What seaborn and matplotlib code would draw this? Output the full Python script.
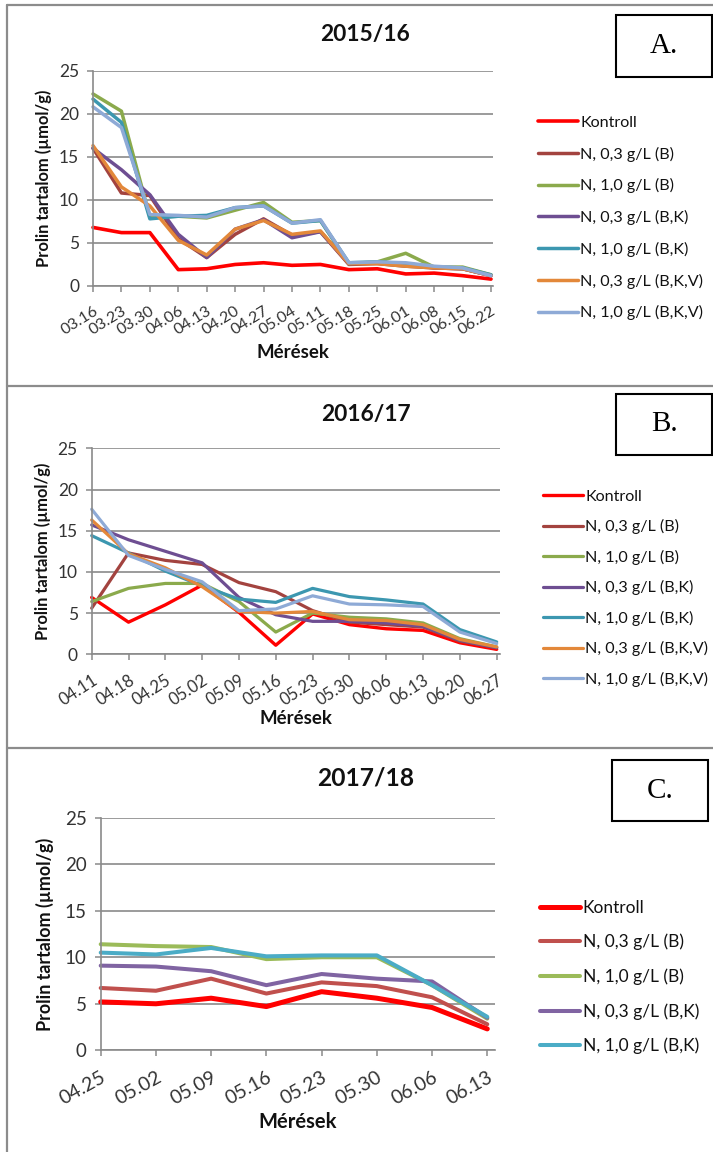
import numpy as np
import matplotlib
matplotlib.use("Agg")
import matplotlib.pyplot as plt
from matplotlib.patches import Rectangle
from matplotlib.lines import Line2D
import seaborn as sns

# ---------------- data ----------------
series_labels = ["Kontroll", "N, 0,3 g/L (B)", "N, 1,0 g/L (B)",
                 "N, 0,3 g/L (B,K)", "N, 1,0 g/L (B,K)",
                 "N, 0,3 g/L (B,K,V)", "N, 1,0 g/L (B,K,V)"]
y_ticks = [0, 5, 10, 15, 20, 25]

# 2015/16
dates_1516 = ["03.16", "03.23", "03.30", "04.06", "04.13", "04.20", "04.27", "05.04",
              "05.11", "05.18", "05.25", "06.01", "06.08", "06.15", "06.22"]
kontroll_1516 = [6.8, 6.2, 6.2, 1.9, 2.0, 2.5, 2.7, 2.4, 2.5, 1.9, 2.0, 1.4, 1.5, 1.2, 0.8]
n03_b_1516 = [16.0, 10.8, 10.5, 5.5, 3.3, 6.0, 7.8, 5.9, 6.3, 2.5, 2.6, 2.3, 2.1, 2.0, 1.2]
n10_b_1516 = [22.3, 20.3, 8.0, 8.1, 7.9, 8.8, 9.7, 7.4, 7.6, 2.6, 2.8, 3.8, 2.2, 2.2, 1.3]
n03_bk_1516 = [16.0, 13.5, 10.6, 6.0, 3.3, 6.6, 7.7, 5.6, 6.3, 2.6, 2.7, 2.5, 2.1, 2.0, 1.2]
n10_bk_1516 = [21.7, 19.0, 7.8, 8.1, 8.2, 9.1, 9.3, 7.3, 7.6, 2.7, 2.8, 2.6, 2.2, 2.1, 1.3]
n03_bkv_1516 = [16.3, 11.5, 9.3, 5.3, 3.6, 6.6, 7.6, 6.0, 6.4, 2.6, 2.6, 2.3, 2.1, 2.0, 1.2]
n10_bkv_1516 = [20.8, 18.4, 8.3, 8.2, 8.0, 9.1, 9.3, 7.3, 7.7, 2.7, 2.8, 2.7, 2.3, 2.1, 1.2]

# 2016/17
dates_1617 = ["04.11", "04.18", "04.25", "05.02", "05.09", "05.16", "05.23", "05.30",
              "06.06", "06.13", "06.20", "06.27"]
kontroll_1617 = [6.9, 3.9, 6.0, 8.4, 5.1, 1.1, 4.9, 3.6, 3.1, 2.9, 1.4, 0.6]
n03_b_1617 = [5.6, 12.3, 11.4, 10.9, 8.7, 7.6, 5.3, 3.9, 3.6, 3.3, 1.6, 0.8]
n10_b_1617 = [6.4, 8.0, 8.6, 8.6, 6.4, 2.7, 5.0, 4.5, 4.3, 3.8, 1.9, 0.9]
n03_bk_1617 = [15.7, 13.9, 12.5, 11.1, 6.9, 4.8, 4.0, 4.0, 3.8, 3.4, 1.7, 0.8]
n10_bk_1617 = [14.4, 12.3, 10.1, 8.3, 6.7, 6.3, 8.0, 7.0, 6.6, 6.1, 3.0, 1.5]
n03_bkv_1617 = [16.3, 12.2, 10.5, 8.2, 5.2, 5.0, 5.2, 4.2, 4.1, 3.6, 1.8, 0.9]
n10_bkv_1617 = [17.6, 12.0, 10.3, 8.8, 5.3, 5.5, 7.1, 6.1, 6.0, 5.8, 2.7, 1.3]

# 2017/18
dates_1718 = ["04.25", "05.02", "05.09", "05.16", "05.23", "05.30", "06.06", "06.13"]
kontroll_1718 = [5.2, 5.0, 5.6, 4.7, 6.3, 5.6, 4.6, 2.3]
n03_b_1718 = [6.7, 6.4, 7.7, 6.1, 7.3, 6.9, 5.7, 2.8]
n10_b_1718 = [11.4, 11.2, 11.1, 9.8, 10.0, 10.0, 7.0, 3.4]
n03_bk_1718 = [9.1, 9.0, 8.5, 7.0, 8.2, 7.7, 7.4, 3.5]
n10_bk_1718 = [10.5, 10.3, 11.0, 10.1, 10.2, 10.2, 7.0, 3.6]

colors_dark = ["#FF0000", "#A3433F", "#8BAA4C", "#6E4E92", "#3C97B0", "#E3883A", "#8EAAD6"]
colors_c = ["#FF0000", "#C0504D", "#9BBB59", "#8064A2", "#4BACC6"]

# ---------------- style ----------------
sns.set_style("white")
plt.rcParams["font.family"] = ["Lato", "DejaVu Sans"]

W, H = 713, 1152
fig = plt.figure(figsize=(W / 100, H / 100), dpi=100)


def fx(x):
    return x / W


def fy(y):
    return 1 - y / H


FRAME = "#8c8c8c"
GRID = "#8a8a8a"
TXT = "#333333"

# panel frames
for yy in (5, 385.5, 748):
    fig.add_artist(Line2D([fx(7), fx(713)], [fy(yy), fy(yy)], transform=fig.transFigure,
                          color=FRAME, lw=1.6))
fig.add_artist(Line2D([fx(7), fx(7)], [fy(5), fy(1152)], transform=fig.transFigure,
                      color=FRAME, lw=1.6))

panels = [
    dict(title="2015/16", letter="A.", dates=dates_1516,
         series=[kontroll_1516, n03_b_1516, n10_b_1516, n03_bk_1516, n10_bk_1516,
                 n03_bkv_1516, n10_bkv_1516],
         colors=colors_dark, lws=[2.6] + [2.5] * 6,
         rect=(93, 70.7, 493, 286), xext=0.07, title_xy=(365, 34),
         letter_box=(616, 15, 712, 77), ylab_x=44, xlab_y=352,
         leg=(538, 123), leg_pitch=31.7, scale=1.0, xtick_fs=11.5, rot=32),
    dict(title="2016/17", letter="B.", dates=dates_1617,
         series=[kontroll_1617, n03_b_1617, n10_b_1617, n03_bk_1617, n10_bk_1617,
                 n03_bkv_1617, n10_bkv_1617],
         colors=colors_dark, lws=[2.4] + [2.3] * 6,
         rect=(91.7, 448.3, 500, 654.3), xext=0.09, title_xy=(366, 414),
         letter_box=(616, 394, 712, 455), ylab_x=43, xlab_y=718,
         leg=(543, 497), leg_pitch=30.4, scale=1.0, xtick_fs=12, rot=33),
    dict(title="2017/18", letter="C.", dates=dates_1718,
         series=[kontroll_1718, n03_b_1718, n10_b_1718, n03_bk_1718, n10_bk_1718],
         colors=colors_c, lws=[3.6] + [2.9] * 4,
         rect=(100.7, 817.7, 495, 1050.3), xext=0.14, title_xy=(366, 778),
         letter_box=(612, 760, 708, 821), ylab_x=45, xlab_y=1122,
         leg=(540, 908), leg_pitch=34.2, scale=1.08, xtick_fs=14, rot=29),
]

for p in panels:
    l, t, r, b = p["rect"]
    s = p["scale"]
    ax = fig.add_axes([fx(l), fy(b), (r - l) / W, (b - t) / H])
    xs = np.arange(len(p["dates"]))
    for lab, vals, col, lw in zip(series_labels, p["series"], p["colors"], p["lws"]):
        sns.lineplot(x=xs, y=vals, color=col, linewidth=lw, label=lab, ax=ax,
                     clip_on=False, solid_joinstyle="round", solid_capstyle="round")

    ax.set_xlim(0, len(xs) - 1 + p["xext"])
    ax.set_ylim(0, 25)
    ax.set_yticks(y_ticks)
    ax.set_xticks(xs)
    ax.set_xticklabels(p["dates"], rotation=p["rot"], ha="right", va="top",
                       rotation_mode="anchor", fontsize=p["xtick_fs"])
    ax.tick_params(axis="y", labelsize=12.5 * s, pad=6)
    ax.tick_params(axis="x", pad=9)
    ax.tick_params(axis="both", direction="out", length=4, width=1.1, color=GRID,
                   labelcolor=TXT, left=True, bottom=True)
    ax.grid(axis="y", color=GRID, lw=1.2)
    ax.grid(axis="x", visible=False)
    ax.set_axisbelow(True)
    for side in ("top", "right"):
        ax.spines[side].set_visible(False)
    for side in ("left", "bottom"):
        ax.spines[side].set_color(GRID)
        ax.spines[side].set_linewidth(1.2)

    ax.set_ylabel("Prolin tartalom (µmol/g)", fontsize=11.9 * s, fontweight="bold",
                  color="#111111", va="center")
    ax.yaxis.set_label_coords((p["ylab_x"] - l) / (r - l), 0.5)
    ax.set_xlabel("Mérések", fontsize=13.4 * s, fontweight="bold", color="#111111",
                  va="center")
    ax.xaxis.set_label_coords(0.5, (b - p["xlab_y"]) / (b - t))

    fig.text(fx(p["title_xy"][0]), fy(p["title_xy"][1]), p["title"], ha="center",
             va="center", fontsize=16.4 * s, fontweight="bold", color="#111111")

    bl, bt, br, bb = p["letter_box"]
    fig.add_artist(Rectangle((fx(bl), fy(bb)), (br - bl) / W, (bb - bt) / H,
                             transform=fig.transFigure, fill=False, ec="black", lw=1.5))
    fig.text(fx((bl + br) / 2), fy((bt + bb) / 2), p["letter"], ha="center", va="center",
             fontsize=21, family="Liberation Serif", color="black")

    fs = 11.6 * s
    fs_px = fs * 100 / 72
    row_h = 0.93 * fs_px
    spacing = (p["leg_pitch"] - row_h) / fs_px
    handles, labels = ax.get_legend_handles_labels()
    ax.legend(handles, labels, loc="upper left",
              bbox_to_anchor=(fx(p["leg"][0]), fy(p["leg"][1] - row_h / 2)),
              bbox_transform=fig.transFigure, frameon=False, fontsize=fs,
              handlelength=40 / fs_px, handletextpad=0.15, labelspacing=spacing,
              borderpad=0, borderaxespad=0, labelcolor="#111111")

fig.savefig("out.png", dpi=100)
